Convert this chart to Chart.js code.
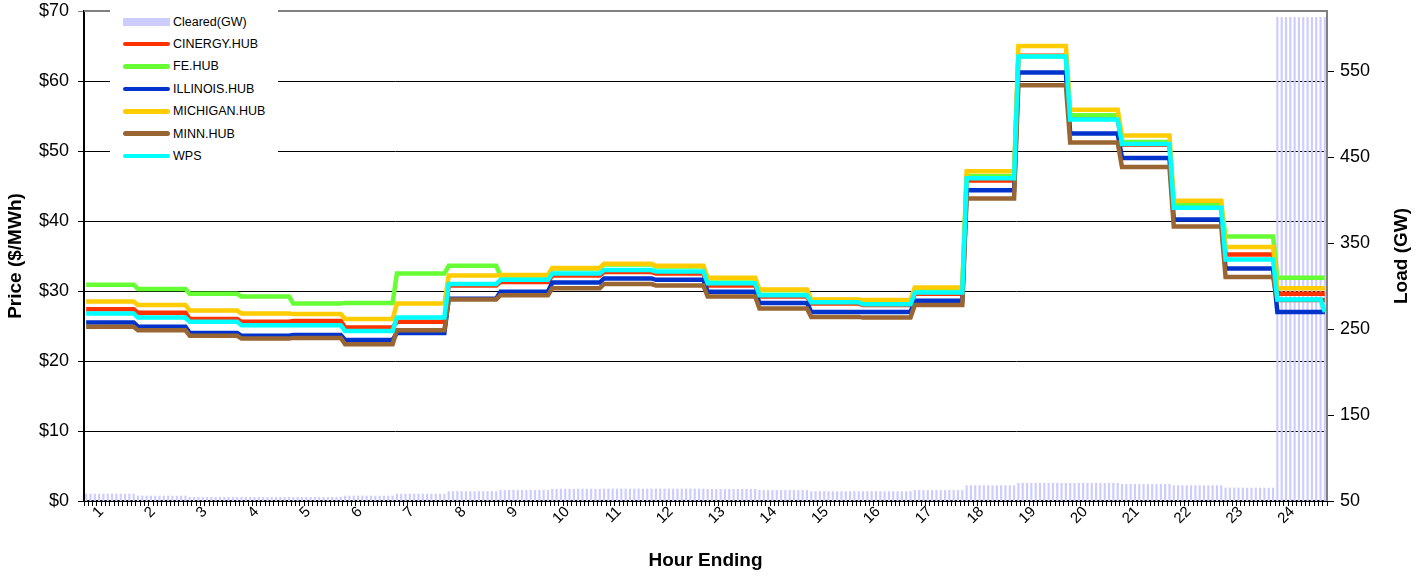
<!DOCTYPE html>
<html>
<head>
<meta charset="utf-8">
<title>Hourly Hub Prices and Cleared Load</title>
<script src="https://cdn.jsdelivr.net/npm/chart.js@4.4.1/dist/chart.umd.min.js"></script>
<style>
    html, body { margin: 0; padding: 0; background: #fff; }
    .wrap { position: relative; width: 1424px; height: 576px; }
    #legend {
        position: absolute;
        left: 110px;
        top: 6px;
        width: 168px;
        height: 160px;
        background: #fff;
        padding-top: 4.5px;
        box-sizing: border-box;
        font-family: "Liberation Sans", Arial, sans-serif;
        font-size: 12.5px;
        color: #000;
    }
    #legend .item { display: flex; align-items: center; height: 22.4px; }
    #legend .swatch { display: inline-block; width: 47px; margin-left: 13px; margin-right: 3px; }
    #legend .swatch.line { height: 4.5px; border-radius: 3px; }
    #legend .swatch.bar { height: 8px; }
</style>
</head>
<body>
<div class="wrap">
    <canvas id="priceChart" width="1424" height="576"></canvas>
    <div id="legend"></div>
</div>
<script>
// Hour ending labels (each hour has 12 five-minute intervals)
const hourLabels = ['1', '2', '3', '4', '5', '6', '7', '8', '9', '10', '11', '12',
    '13', '14', '15', '16', '17', '18', '19', '20', '21', '22', '23', '24'];
const intervalsPerHour = 12;

// Cleared load (GW), per hour
const clearedGW = [58.5, 56.2, 54.6, 54.6, 54.6, 56.2, 58.5, 61.4, 62.8, 64.2, 64.4, 64.4,
    64.0, 62.7, 61.3, 61.3, 62.7, 68.3, 71.0, 71.0, 69.7, 68.3, 65.5, 613];

// Hub prices ($/MWh), per hour
const cinergyHub = [27.4, 26.9, 26.0, 25.6, 25.7, 24.8, 25.6, 30.8, 31.3, 32.2, 32.7, 32.5,
    30.8, 29.2, 28.2, 28.0, 29.6, 45.8, 63.6, 54.6, 50.9, 41.9, 35.2, 29.6];
const feHub = [30.9, 30.3, 29.6, 29.2, 28.2, 28.3, 32.5, 33.6, 32.2, 33.2, 33.8, 33.5,
    31.8, 30.1, 28.7, 28.6, 30.4, 46.4, 63.5, 55.1, 51.3, 42.3, 37.8, 31.9];
const illinoisHub = [25.5, 24.9, 24.0, 23.6, 23.7, 23.0, 24.0, 28.9, 29.9, 31.2, 31.8, 31.6,
    29.9, 28.3, 27.0, 27.0, 28.6, 44.4, 61.2, 52.5, 49.0, 40.2, 33.2, 27.0];
const michiganHub = [28.5, 28.0, 27.2, 26.8, 26.7, 26.0, 28.2, 32.2, 32.3, 33.3, 33.9, 33.6,
    31.9, 30.2, 28.8, 28.7, 30.5, 47.1, 65.0, 55.9, 52.2, 42.9, 36.3, 30.4];
const minnHub = [24.9, 24.4, 23.6, 23.2, 23.3, 22.4, 24.4, 28.8, 29.4, 30.4, 31.0, 30.8,
    29.2, 27.5, 26.3, 26.2, 28.0, 43.2, 59.4, 51.2, 47.7, 39.2, 32.0, 28.7];
const wps = [26.8, 26.2, 25.6, 25.1, 25.1, 24.3, 26.2, 31.0, 31.6, 32.5, 33.0, 32.8,
    31.1, 29.4, 28.4, 28.1, 29.8, 46.1, 63.5, 54.5, 51.0, 41.9, 34.5, 28.8];
const wpsLastInterval = 27.0;

// Axis ticks
const loadTicks = [50, 150, 250, 350, 450, 550];
const labelSlot = 3; // interval within each hour that carries the hour label

// Spread hourly values over the five-minute intervals
function expand(hourly) {
    return hourly.flatMap(v => Array(intervalsPerHour).fill(v));
}

const intervalLabels = expand(hourLabels);
const wpsSeries = expand(wps);
wpsSeries[wpsSeries.length - 1] = wpsLastInterval;

const FONT = '"Liberation Sans", Arial, sans-serif';
Chart.defaults.font.family = FONT;
Chart.defaults.color = '#000';

function lineSet(label, data, color, order) {
    return {
        type: 'line',
        label: label,
        data: data,
        borderColor: color,
        backgroundColor: color,
        borderWidth: 4.5,
        pointRadius: 0,
        tension: 0,
        fill: false,
        yAxisID: 'y',
        order: order
    };
}

const datasets = [
    {
        type: 'bar',
        label: 'Cleared(GW)',
        data: expand(clearedGW),
        backgroundColor: '#CCCCFF',
        barPercentage: 0.5,
        categoryPercentage: 1.0,
        yAxisID: 'y1',
        order: 10
    },
    lineSet('CINERGY.HUB', expand(cinergyHub), '#FF3300', 6),
    lineSet('FE.HUB', expand(feHub), '#66FF33', 5),
    lineSet('ILLINOIS.HUB', expand(illinoisHub), '#0033CC', 4),
    lineSet('MICHIGAN.HUB', expand(michiganHub), '#FFCC00', 3),
    lineSet('MINN.HUB', expand(minnHub), '#996633', 2),
    lineSet('WPS', wpsSeries, '#00FFFF', 1)
];

// Gray frame on top and right of the plot area
const plotFrame = {
    id: 'plotFrame',
    afterDraw(chart) {
        const { ctx, chartArea: a } = chart;
        ctx.save();
        ctx.strokeStyle = '#808080';
        ctx.lineWidth = 2;
        ctx.beginPath();
        ctx.moveTo(a.left, a.top);
        ctx.lineTo(a.right, a.top);
        ctx.lineTo(a.right, a.bottom);
        ctx.stroke();
        ctx.restore();
    }
};

// Right axis title, reading bottom to top like the left one
const rightTitle = {
    id: 'rightTitle',
    afterDraw(chart) {
        const { ctx, chartArea: a } = chart;
        ctx.save();
        ctx.translate(1402, (a.top + a.bottom) / 2);
        ctx.rotate(-Math.PI / 2);
        ctx.font = 'bold 19px ' + FONT;
        ctx.fillStyle = '#000';
        ctx.textAlign = 'center';
        ctx.textBaseline = 'middle';
        ctx.fillText('Load (GW)', 0, 0);
        ctx.restore();
    }
};

// Fixed axis box sizes so the plot area lines up with the original
function fixWidth(w) {
    return scale => {
        scale.width = w;
        scale.paddingTop = 0;
        scale.paddingBottom = 0;
    };
}

const chart = new Chart(document.getElementById('priceChart').getContext('2d'), {
    data: {
        labels: intervalLabels,
        datasets: datasets
    },
    plugins: [plotFrame, rightTitle],
    options: {
        responsive: false,
        animation: false,
        layout: { padding: { top: 11, left: 0, right: 0, bottom: 0 } },
        plugins: {
            legend: { display: false },
            tooltip: { enabled: false }
        },
        scales: {
            x: {
                type: 'category',
                offset: true,
                afterFit: scale => {
                    scale.height = 75;
                    scale.paddingLeft = 0;
                    scale.paddingRight = 0;
                },
                grid: {
                    drawOnChartArea: false,
                    drawTicks: true,
                    tickLength: 5,
                    color: '#000',
                    offset: true
                },
                border: { display: true, color: '#000', width: 2 },
                ticks: {
                    autoSkip: false,
                    maxRotation: 45,
                    minRotation: 45,
                    padding: -3,
                    labelOffset: 2,
                    font: { size: 15 },
                    callback: function(value, index) {
                        return index % intervalsPerHour === labelSlot ? this.getLabelForValue(value) : '';
                    }
                },
                title: {
                    display: true,
                    text: 'Hour Ending',
                    font: { size: 19, weight: 'bold' },
                    padding: { top: 0, bottom: 4 }
                }
            },
            y: {
                position: 'left',
                min: 0,
                max: 70,
                afterFit: fixWidth(84),
                grid: {
                    color: ctx => (ctx.tick && ctx.tick.value === 70) ? '#808080' : '#000',
                    lineWidth: 1,
                    tickLength: 6
                },
                border: { display: true, color: '#000', width: 2 },
                ticks: {
                    stepSize: 10,
                    padding: 9,
                    font: { size: 18 },
                    callback: v => '$' + v
                },
                title: {
                    display: true,
                    text: 'Price ($/MWh)',
                    font: { size: 19, weight: 'bold' },
                    padding: { top: 4, bottom: 0 }
                }
            },
            y1: {
                position: 'right',
                min: 50,
                max: 620,
                afterFit: fixWidth(97),
                afterBuildTicks: scale => {
                    scale.ticks = loadTicks.map(v => ({ value: v }));
                },
                grid: {
                    drawOnChartArea: false,
                    color: '#000',
                    tickLength: 7
                },
                border: { display: true, color: '#000', width: 2 },
                ticks: {
                    padding: 6,
                    font: { size: 18 }
                },
                title: { display: false }
            }
        }
    }
});

// Legend drawn inside the plot area, top left
function buildLegend() {
    const box = document.getElementById('legend');
    box.innerHTML = chart.data.datasets.map(ds => {
        const kind = ds.type === 'bar' ? 'bar' : 'line';
        const color = ds.type === 'bar' ? ds.backgroundColor : ds.borderColor;
        return '<div class="item"><span class="swatch ' + kind + '" style="background:' + color + '"></span>' + ds.label + '</div>';
    }).join('');
}

buildLegend();
</script>
</body>
</html>
